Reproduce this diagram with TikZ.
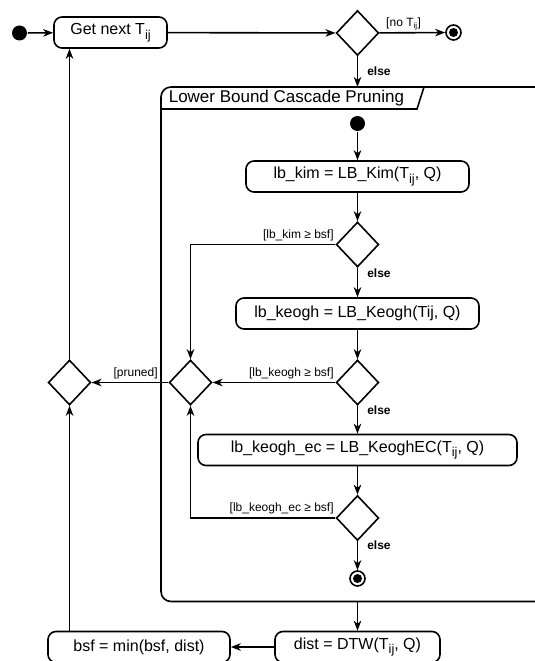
\documentclass[tikz,border=0pt]{standalone}
\usepackage{fontspec}
\setmainfont{Liberation Sans}
\usetikzlibrary{shapes.geometric,arrows.meta}
\newcommand\mysub[1]{\raisebox{-0.3em}{\scalebox{0.8}{#1}}}
\tikzset{
  act/.style={draw, rounded corners=8pt, minimum height=31pt, inner sep=0pt, font=\fontsize{16}{19}\selectfont},
  dec/.style={draw, diamond, minimum width=42.5pt, minimum height=45pt, inner sep=0pt},
  init/.style={circle, fill, minimum size=15pt, inner sep=0pt},
  fin/.style={circle, draw, minimum size=15pt, inner sep=0pt,
    path picture={\fill (path picture bounding box.center) circle (4.5pt);}},
  flow/.style={-{Stealth[length=10pt,width=7.5pt,inset=3pt]}},
  guard/.style={font=\fontsize{12}{14}\selectfont, inner sep=1pt},
  elsel/.style={font=\fontsize{12}{14}\selectfont\bfseries, inner sep=1pt},
}
\begin{document}
\begin{tikzpicture}[x=1pt, y=-1pt, line width=1.6pt]
\fill[white] (0,0) rectangle (535,661);
\useasboundingbox (0,0) rectangle (535,661);
\clip (0,0) rectangle (535,661);

% frame
\draw[rounded corners=10pt] (161,87) rectangle (600,601.5);
\draw (161,109) -- (417,109) -- (424,87);
\node[anchor=west, font=\fontsize{17}{20}\selectfont, inner sep=0pt] (title) at (168,98.5) {Lower Bound Cascade Pruning};
\coordinate (ftop) at (357.5,87);
\coordinate (fbot) at (357.5,601.5);

% nodes
\node[init] (start) at (19.5,33) {};
\node[act, minimum width=113pt] (get) at (110.5,32.5) {Get next T\mysub{ij}};
\node[dec] (d0) at (357.5,33) {};
\node[fin] (end0) at (453.5,32.5) {};

\node[init] (s1) at (357.5,123.5) {};
\node[act, minimum width=223pt] (kim) at (357.5,176.5) {lb\_kim = LB\_Kim(T\mysub{ij}, Q)};
\node[dec] (d1) at (357.5,244.5) {};
\node[act, minimum width=243pt] (keogh) at (357.5,313.5) {lb\_keogh = LB\_Keogh(Tij, Q)};
\node[dec] (d2) at (357.5,382.5) {};
\node[dec] (merge) at (190.5,382.5) {};
\node[dec] (dl) at (69.5,382.5) {};
\node[act, minimum width=319pt] (ec) at (357.5,450) {lb\_keogh\_ec = LB\_KeoghEC(T\mysub{ij}, Q)};
\node[dec] (d3) at (357.5,518) {};
\node[fin] (end1) at (357.5,578.5) {};
\node[act, minimum width=165pt] (dist) at (357.5,647) {dist = DTW(T\mysub{ij}, Q)};
\node[act, minimum width=182pt] (bsf) at (139,647) {bsf = min(bsf, dist)};

% connectors
\draw[flow] (start) -- (get);
\draw[flow] (get) -- (d0);
\draw[flow] (d0) -- node[guard, anchor=south west, pos=0, xshift=5pt, yshift=1pt] {[no T\textsubscript{ij}]} (end0);
\draw[flow] (d0) -- node[elsel, pos=0.48, right=8pt] {else} (ftop);
\draw[flow] (s1) -- (kim);
\draw[flow] (kim) -- (d1);
\draw[flow] (d1.west) -| node[guard, anchor=south east, pos=0, yshift=2pt] {[lb\_kim ≥ bsf]} (merge.north);
\draw[flow] (d1) -- node[elsel, pos=0.2, right=8pt] {else} (keogh);
\draw[flow] (keogh) -- (d2);
\draw[flow] (d2.west) -- node[guard, anchor=south east, pos=0, yshift=2pt] {[lb\_keogh ≥ bsf]} (merge.east);
\draw[flow] (merge.west) -- node[guard, anchor=south east, pos=0, xshift=-9pt, yshift=2pt] {[pruned]} (dl.east);
\draw[flow] (d2) -- node[elsel, pos=0.17, right=8pt] {else} (ec);
\draw[flow] (ec) -- (d3);
\draw[flow] (d3.west) -| node[guard, anchor=south east, pos=0, yshift=2pt] {[lb\_keogh\_ec ≥ bsf]} (merge.south);
\draw[flow] (d3) -- node[elsel, pos=0.12, right=8pt] {else} (end1);
\draw[flow] (fbot) -- (dist);
\draw[flow] (dist) -- (bsf);
\draw[flow] (dl.south |- bsf.north) -- (dl.south);
\draw[flow] (dl.north) -- (dl.north |- get.south);
\end{tikzpicture}
\end{document}
